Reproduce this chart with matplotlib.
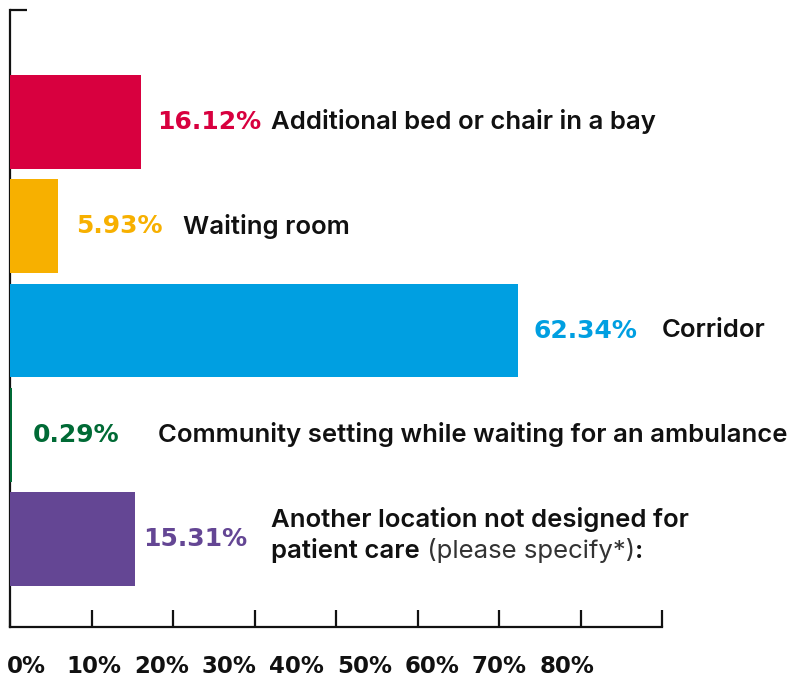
import matplotlib
matplotlib.use("Agg")
import matplotlib.pyplot as plt
import numpy as np

categories = [
    "Additional bed or chair in a bay",
    "Waiting room",
    "Corridor",
    "Community setting while waiting for an ambulance",
    "Another location not designed for",
]
values = [16.12, 5.93, 62.34, 0.29, 15.31]
value_labels = ["16.12%", "5.93%", "62.34%", "0.29%", "15.31%"]
tick_values = [0, 10, 20, 30, 40, 50, 60, 70, 80]
tick_labels = ["0%", "10%", "20%", "30%", "40%", "50%", "60%", "70%", "80%"]

colors = ["#D8003F", "#F7B000", "#009FE1", "#006A35", "#644694"]
pct_pad_px = [16, 18, 15, 20, 8]           # gap from bar end to value label
cat_label_x = [32.0, 21.2, 80.0, 18.2, 32.0]  # left edge of category label (axis units)

W, H = 795, 679
fig = plt.figure(figsize=(W / 100, H / 100), dpi=100)
ax = fig.add_axes([10 / W, 1 - 627 / H, 652 / W, 617 / H])

y = np.arange(len(values))
ax.barh(y, values, height=0.9, color=colors, zorder=3)
ax.set_xlim(0, 80)
ax.set_ylim(4.84, -1.07)

for s in ["top", "right"]:
    ax.spines[s].set_visible(False)
for s in ["left", "bottom"]:
    ax.spines[s].set_linewidth(1.6)
    ax.spines[s].set_color("#111111")
ax.set_xticks(tick_values)
ax.set_xticklabels([])
ax.tick_params(axis="x", direction="in", length=12, width=1.6, color="#111111")
ax.set_yticks([-1.07])
ax.set_yticklabels([])
ax.tick_params(axis="y", direction="in", length=12, width=1.6, color="#111111")

cat_font = dict(family=["Inter", "DejaVu Sans"], fontsize=18.5, fontweight="semibold", color="#111111")
pct_font = dict(family=["DejaVu Sans"], fontsize=18, fontweight="bold")

for i, (v, lab, c) in enumerate(zip(values, value_labels, colors)):
    ax.annotate(lab, xy=(v, i), xytext=(pct_pad_px[i], 0), textcoords="offset pixels",
                ha="left", va="center", color=c, zorder=4, **pct_font)

for i in range(4):
    ax.text(cat_label_x[i], i, categories[i], ha="left", va="center", **cat_font)

# two-line label with mixed weights
t1 = ax.annotate(categories[4], xy=(cat_label_x[4], 4), xytext=(0, 20), textcoords="offset pixels",
                 ha="left", va="center", **cat_font)
t2 = ax.annotate("patient care", xy=(cat_label_x[4], 4), xytext=(0, -11), textcoords="offset pixels",
                 ha="left", va="center", **cat_font)
light_font = dict(cat_font)
light_font["fontweight"] = "normal"
light_font["color"] = "#333333"
t3 = ax.annotate(" (please specify*)", xy=(1, 0), xycoords=t2, ha="left", va="bottom", **light_font)
t4 = ax.annotate(":", xy=(1, 0), xycoords=t3, ha="left", va="bottom", **cat_font)

# tick labels row
ax2 = fig.add_axes([26.5 / W, 1 - 655 / H, (567 - 26.5) / W, 0.0001])
ax2.set_xlim(0, 80)
ax2.set_xticks(tick_values)
ax2.set_xticklabels(tick_labels, family=["DejaVu Sans"], fontsize=16.5, fontweight="bold", color="#111111")
ax2.tick_params(axis="x", length=0, pad=0)
ax2.set_yticks([])
for s in ax2.spines.values():
    s.set_visible(False)
ax2.patch.set_visible(False)

fig.savefig("out.png", dpi=100)
